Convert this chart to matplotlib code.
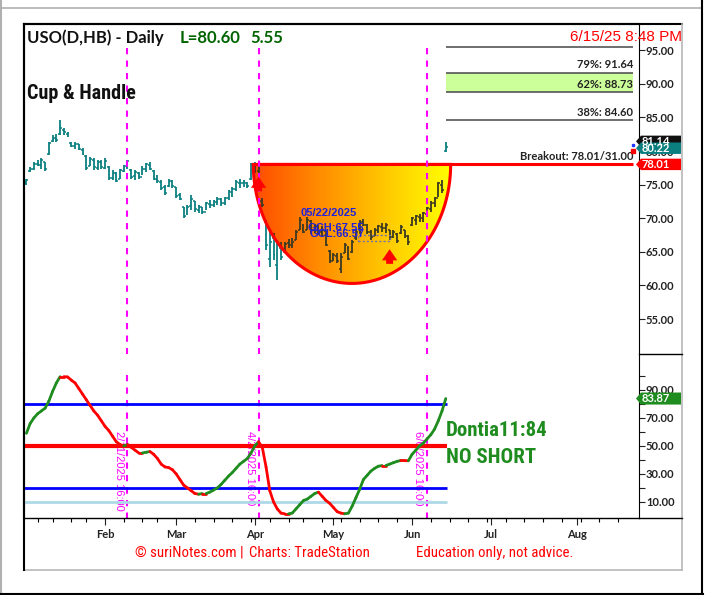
import numpy as np
import matplotlib
matplotlib.use('Agg')
import matplotlib.pyplot as plt
from matplotlib.colors import LinearSegmentedColormap
from matplotlib.collections import LineCollection
from matplotlib.lines import Line2D
from matplotlib.patches import Polygon, Rectangle
import matplotlib.transforms as mtransforms

W, H = 707, 595

# daily bars, index 0 = 12/31/2024 (trading days)
highs = [75.9, 77.6, 78.4, 78.7, 78.9, 78.4, 81.4, 82.4, 82.6, 84.6,
         83.4, 82.9, 81.4, 81.4, 81.1, 80.4, 79.4, 79.1, 78.9, 78.7,
         78.7, 78.9, 77.7, 77.2, 76.9, 77.4, 77.9, 78.7, 77.4, 77.2,
         76.9, 77.7, 78.2, 78.4, 77.2, 76.4, 75.7, 74.9, 75.9, 75.7,
         74.7, 73.7, 71.7, 72.0, 73.4, 72.5, 72.0, 71.7, 72.4, 72.7,
         72.7, 73.2, 73.0, 73.2, 74.2, 74.7, 75.7, 75.9, 75.7, 75.4,
         78.2, 78.3, 78.3, 73.0, 69.7, 68.0, 67.8, 66.8, 66.5, 66.5,
         66.9, 67.0, 68.3, 70.2, 69.2, 70.2, 69.7, 69.2, 69.0, 68.8,
         68.3, 65.3, 64.8, 64.8, 64.8, 66.3, 65.8, 66.8, 68.3, 69.7,
         69.9, 69.2, 68.3, 68.5, 69.0, 69.3, 69.3, 68.3, 68.3, 67.8,
         69.0, 68.3, 67.5, 70.2, 70.5, 70.7, 71.0, 71.7, 72.5, 73.2,
         75.4, 75.7, 81.4]
lows = [75.0, 76.9, 77.2, 77.7, 77.4, 77.1, 79.4, 81.4, 81.4, 82.4,
        82.4, 82.1, 80.6, 80.3, 80.1, 79.4, 77.2, 77.7, 77.2, 77.2,
        77.4, 77.4, 75.7, 75.7, 75.4, 75.9, 76.9, 77.4, 75.9, 75.7,
        75.9, 76.4, 76.9, 77.2, 75.7, 75.2, 74.2, 73.5, 74.7, 74.5,
        73.0, 72.7, 70.0, 70.5, 71.2, 71.0, 70.8, 70.6, 71.2, 71.5,
        71.7, 72.0, 71.8, 72.0, 72.7, 73.2, 74.0, 74.5, 74.7, 74.5,
        75.7, 76.8, 76.8, 71.7, 65.3, 62.8, 63.8, 60.8, 63.8, 64.8,
        65.5, 65.5, 66.7, 68.2, 67.8, 68.2, 67.7, 67.8, 67.5, 67.2,
        65.8, 63.3, 63.6, 63.3, 61.8, 64.8, 63.8, 64.8, 66.8, 67.7,
        68.8, 67.7, 66.8, 67.3, 67.8, 68.0, 67.8, 66.8, 67.0, 66.3,
        67.7, 67.0, 66.0, 68.8, 69.0, 69.5, 69.5, 70.2, 70.9, 71.7,
        73.2, 73.7, 79.9]
opens = [75.2, 77.0, 77.4, 78.0, 77.9, 78.3, 79.5, 81.5, 81.9, 82.5,
         83.2, 82.5, 81.2, 80.7, 81.0, 80.2, 79.3, 77.8, 78.6, 77.5,
         78.3, 77.5, 77.6, 76.0, 76.7, 75.8, 77.1, 77.6, 77.2, 76.3,
         76.8, 76.2, 77.3, 77.9, 77.1, 75.9, 75.4, 74.6, 74.8, 75.5,
         74.6, 73.4, 71.6, 70.6, 71.8, 72.6, 71.2, 71.6, 71.0, 72.1,
         71.9, 72.4, 72.8, 72.3, 73.0, 73.9, 74.3, 75.3, 75.2, 75.3,
         75.8, 77.0, 77.1, 72.6, 69.5, 64.0, 67.0, 63.0, 65.5, 65.0,
         66.3, 66.0, 66.8, 68.3, 69.0, 68.3, 69.6, 68.3, 68.8, 67.9,
         68.1, 65.1, 63.7, 64.4, 62.5, 64.9, 65.6, 65.0, 67.0, 68.5,
         69.4, 69.0, 67.9, 67.3, 68.1, 68.7, 68.5, 68.2, 67.2, 67.7,
         67.8, 68.2, 67.3, 69.0, 69.8, 70.2, 70.0, 70.7, 71.3, 72.2,
         73.0, 75.0, 80.0]
closes = [75.7, 77.4, 78.1, 77.9, 78.6, 77.3, 81.2, 82.0, 81.6, 83.5,
          82.8, 82.7, 80.8, 81.1, 80.3, 79.6, 77.5, 78.8, 77.6, 78.4,
          77.6, 78.5, 76.0, 76.8, 75.6, 77.2, 77.7, 78.5, 76.2, 76.9,
          76.1, 77.4, 78.0, 77.4, 75.9, 75.5, 74.5, 73.8, 75.6, 74.8,
          73.3, 72.9, 70.3, 71.7, 72.8, 71.3, 71.7, 70.9, 72.2, 72.0,
          72.5, 72.8, 72.2, 73.0, 74.0, 74.4, 75.4, 75.2, 75.4, 74.8,
          78.0, 78.0, 78.1, 72.0, 66.0, 66.5, 64.5, 66.0, 64.2, 66.2,
          66.0, 66.5, 68.0, 69.8, 68.0, 69.8, 68.2, 68.8, 67.8, 68.3,
          66.0, 63.6, 64.5, 63.6, 64.3, 66.0, 64.0, 66.5, 68.0, 69.5,
          69.0, 68.0, 67.2, 68.2, 68.8, 68.5, 69.0, 67.3, 68.0, 66.6,
          68.7, 67.4, 66.4, 70.0, 70.3, 70.0, 70.8, 71.5, 72.3, 72.8,
          75.2, 74.2, 80.6]

# Dontia11 oscillator
dontia = [59, 66, 70, 73, 75, 77, 82, 89, 95, 99.5,
          99.5, 99.3, 97, 95, 91, 87, 83, 79, 75, 72,
          68, 64, 61, 57, 53, 51, 50, 51, 49, 47,
          45, 45, 45.5, 46, 44, 41, 37, 35, 34.5, 33,
          30, 26, 22, 20, 18, 16, 15.5, 16, 16, 17,
          18.5, 20, 22.5, 25.5, 28.5, 31, 34, 37, 39, 41,
          45, 50, 53, 49, 35, 18, 10, 5, 2, 1.5,
          1.5, 2, 5, 8, 11, 12, 14, 16, 17, 14,
          11, 9, 6, 3, 2, 1.5, 2, 7, 13, 19,
          26, 29, 32, 34, 35.5, 36, 36, 37, 38, 39,
          39.6, 39.5, 39.4, 44, 47, 50, 52, 55, 58, 62,
          68, 75, 83.87]

month_labels = ['Feb', 'Mar', 'Apr', 'May', 'Jun', 'Jul', 'Aug']
month_pos = [21, 40, 61, 82, 103, 124, 147]
week_pos = [3, 7, 12, 16, 21, 26, 31, 35, 40, 45, 50, 55, 60, 65, 70, 74, 79,
            84, 89, 94, 99, 103, 108, 113, 118, 123, 128, 133, 138, 143, 148,
            153, 158]

event_pos = [27, 62, 107]
event_labels = ['2/11/2025 16:00', '4/2/2025 16:00', '6/6/2025 16:00']

breakout = 78.01
fib_levels = [95.45, 91.64, 88.73, 84.60]
fib_labels = ['', '79%: 91.64', '62%: 88.73', '38%: 84.60']
cup_left, cup_right, cup_bottom = 60.6, 113.3, 60.3
gch, gcl = 67.55, 66.57
osc_levels = [80, 50, 20, 10]

teal = '#0b7f80'
green = '#1e8c1e'
narrow = ['Roboto Condensed', 'DejaVu Sans']
x = np.arange(len(highs))
xlim = (-0.64, 163.6)

fig = plt.figure(figsize=(W / 100, H / 100), dpi=100)
fig.patch.set_facecolor('white')


def fx(px):
    return px / W


def fy(py):
    return 1 - py / H


ax = fig.add_axes([fx(24), fy(354), 615 / W, 330 / H])
ax2 = fig.add_axes([fx(24), fy(518), 615 / W, 164 / H])

# ---- price panel
ax.vlines(x, lows, highs, color=teal, lw=1.3, zorder=1)
ax.hlines(opens, x - 0.5, x, color=teal, lw=1.1, zorder=1)
ax.hlines(closes, x, x + 0.5, color=teal, lw=1.1, zorder=1)

t = np.linspace(np.pi, 2 * np.pi, 120)
cx = (cup_left + cup_right) / 2
cup_x = cx + (cup_right - cup_left) / 2 * np.cos(t)
cup_y = breakout + (breakout - cup_bottom) * np.sin(t)
cup = Polygon(np.column_stack([cup_x, cup_y]), closed=True, fc='none',
              ec='red', lw=2.2, zorder=4)
ax.add_patch(cup)
cmap = LinearSegmentedColormap.from_list('cup', ['#ff4a00', '#ff8c00', '#ffc800', '#ffff00'])
im = ax.imshow(np.linspace(0, 1, 256).reshape(1, -1), extent=[cup_left, cup_right, cup_bottom, breakout],
               aspect='auto', cmap=cmap, zorder=2, interpolation='bilinear')
im.set_clip_path(cup)
for coll in [ax.vlines(x, lows, highs, color='#3a3a22', lw=1.3, zorder=3),
             ax.hlines(opens, x - 0.5, x, color='#3a3a22', lw=1.1, zorder=3),
             ax.hlines(closes, x, x + 0.5, color='#3a3a22', lw=1.1, zorder=3)]:
    coll.set_clip_path(cup)

ax.hlines(breakout, cup_left, 162, color='red', lw=2.2, zorder=5)
ax.fill_between([112, 162], fib_levels[2], fib_levels[1], color='#ccff99', lw=0, zorder=1)
ax.hlines(fib_levels, 112, 162, color='#555555', lw=1.2, zorder=2)
for lv, lb in zip(fib_levels, fib_labels):
    if lb:
        ax.text(162, lv + 0.35, lb, ha='right', va='bottom', fontsize=8,
                fontweight='bold', family='Lato', color='#222222', zorder=6)
ax.text(162, breakout + 0.35, 'Breakout: 78.01/31.00', ha='right', va='bottom',
        fontsize=8, fontweight='bold', family='Lato', color='#222222', zorder=6)

# GC box and labels
ax.add_patch(Rectangle((88.6, gcl), 8.5, gch - gcl, fc='none', ec='#7070b0',
                       lw=1, ls=(0, (1.5, 1.5)), zorder=5))
ax.text(73.1, 70.3, '05/22/2025', color='#2222dd', fontsize=8, fontweight='bold',
        family='Liberation Sans', zorder=6)
ax.text(75.0, 68.1, 'GCH:67.55', color='#2222dd', fontsize=8, fontweight='bold',
        family='Liberation Sans', zorder=6)
ax.text(75.5, 67.15, 'GCL:66.57', color='#2222dd', fontsize=8, fontweight='bold',
        family='Liberation Sans', zorder=6)

# red arrows
for xa, ytip in [(62, 76.6), (97, 65.8)]:
    ax.annotate('', xy=(xa, ytip), xytext=(xa, ytip - 3.0),
                arrowprops=dict(arrowstyle='simple,head_width=1.1,head_length=0.8,tail_width=0.5',
                                color='red', lw=0), zorder=7)

ax.plot([162], [80.9], 's', ms=2, color='#2233ff', zorder=6, clip_on=False)
ax.plot([162], [80.0], 's', ms=2.5, color='red', zorder=6, clip_on=False)

for p in event_pos:
    ax.plot([p, p], [95.3, 49.8], color='#ff00ff', lw=1.5, ls=(0, (3, 3)), zorder=6)

ax.set_xlim(*xlim)
ax.set_ylim(49.8, 98.9)
ax.set_xticks([])
ax.yaxis.tick_right()
ax.set_yticks(np.arange(55, 96, 5))
ax.set_yticklabels(['%.2f' % v for v in np.arange(55, 96, 5)])
ax.tick_params(axis='y', length=4, width=0.8, pad=1, labelsize=8, colors='#222222')
for lab in ax.get_yticklabels():
    lab.set_fontweight('bold')
    lab.set_family('Lato')
ax.spines['bottom'].set_visible(False)
ax.spines['left'].set_linewidth(1.5)
ax.spines['top'].set_linewidth(1.5)
ax.spines['right'].set_linewidth(0.8)

# ---- oscillator panel
for p, lb in zip(event_pos, event_labels):
    ax2.text(p - 2.4, 61, lb, rotation=-90, ha='center', va='top', color='#ff00ff',
             fontsize=8, family='Liberation Sans', zorder=1)
    ax2.plot([p, p], [100.5, -1.5], color='#ff00ff', lw=1.5, ls=(0, (3, 3)), zorder=2)

xe = 112.3
ax2.hlines(osc_levels[0], xlim[0], xe, color='#0000ff', lw=2, zorder=3)
ax2.hlines(osc_levels[1], xlim[0], xe, color='#ff0000', lw=3, zorder=3)
ax2.hlines(osc_levels[2], xlim[0], xe, color='#0000ff', lw=2, zorder=3)
ax2.hlines(osc_levels[3], xlim[0], xe, color='#add8e6', lw=2, zorder=3)

dv = np.array(dontia)
segs = [[(i - 1, dv[i - 1]), (i, dv[i])] for i in range(1, len(dv))]
cols = [green if dv[i] > dv[i - 1] else '#ff0000' for i in range(1, len(dv))]
ax2.add_collection(LineCollection(segs, colors=cols, lw=2, zorder=4, capstyle='round'))

ax2.set_xlim(*xlim)
ax2.set_ylim(-1.5, 115.7)
ax2.yaxis.tick_right()
ax2.set_yticks([10, 30, 50, 70, 90])
ax2.set_yticklabels(['%.2f' % v for v in [10, 30, 50, 70, 90]])
ax2.set_yticks([20, 40, 60, 80, 100], minor=True)
ax2.tick_params(axis='y', which='both', length=4, width=0.8, pad=1, labelsize=8, colors='#222222')
ax2.set_xticks(month_pos)
ax2.set_xticklabels(month_labels)
ax2.set_xticks(week_pos, minor=True)
ax2.tick_params(axis='x', which='major', length=5, width=0.8, pad=3, labelsize=8, colors='#222222')
ax2.tick_params(axis='x', which='minor', length=3, width=0.8)
for lab in ax2.get_yticklabels() + ax2.get_xticklabels():
    lab.set_fontweight('bold')
    lab.set_family('Lato')
ax2.spines['top'].set_visible(False)
ax2.spines['left'].set_linewidth(1.5)
ax2.spines['right'].set_linewidth(0.8)
ax2.spines['bottom'].set_linewidth(1)


# ---- price flags on the right axis
def flag(a, y, text, fc, dy, off=0.0):
    tr = mtransforms.blended_transform_factory(fig.transFigure, a.transData)
    yc = y + off
    pts = [(fx(636), yc), (fx(641), yc + dy), (fx(681), yc + dy), (fx(681), yc - dy), (fx(641), yc - dy)]
    a.add_patch(Polygon(pts, closed=True, transform=tr, fc=fc, ec='none', clip_on=False, zorder=10))
    a.text(fx(642), yc, text, transform=tr, color='white', fontsize=8, fontweight='bold',
           family='Lato', va='center', ha='left', clip_on=False, zorder=11)


flag(ax, 81.14, '81.14', '#111111', 0.85, off=0.3)
flag(ax, 80.22, '80.22', '#0b7f80', 0.85, off=0.2)
flag(ax, breakout, '78.01', '#ff0000', 0.85)
flag(ax2, dontia[-1], '83.87', green, 4.3)

# ---- frame lines
def fline(x0, y0, x1, y1, c, lw=1.0):
    fig.add_artist(Line2D([fx(x0), fx(x1)], [fy(y0), fy(y1)], color=c, lw=lw))


fline(1, 0, 1, 593, '#b0b0b0', 1.5)
fline(0, 8, 702, 8, '#b0b0b0', 1.2)
fline(702, 0, 702, 594, '#000000', 1.5)
fline(0, 593.5, 703, 593.5, '#000000', 1.5)
fline(24, 24, 682, 24, '#000000', 1.5)
fline(682, 24, 682, 570, '#b8b8b8', 1.2)
fline(24, 570, 682, 570, '#b8b8b8', 1.2)
fline(24, 24, 24, 570, '#000000', 1.5)
fline(639, 518, 682, 518, '#000000', 1.0)
fline(639, 354, 682, 354, '#000000', 1.0)

# ---- texts
fig.text(fx(27), fy(43), 'USO(D,HB) - Daily', fontsize=12, fontweight='bold', family='Lato',
         color='#111111', va='baseline')
fig.text(fx(180), fy(43), 'L=80.60', fontsize=12, fontweight='bold', family='Lato',
         color='#006400', va='baseline')
fig.text(fx(250), fy(43), '5.55', fontsize=12, fontweight='bold', family='Lato',
         color='#006400', va='baseline')
fig.text(fx(682), fy(41), '6/15/25 8:48 PM', fontsize=11, family='Liberation Sans',
         color='#ff0000', va='baseline', ha='right')
fig.text(fx(27), fy(99), 'Cup & Handle', fontsize=14.5, fontweight='bold', fontstretch='condensed',
         family=narrow, color='#111111', va='baseline')
fig.text(fx(446), fy(436), 'Dontia11:84', fontsize=15, fontweight='bold', fontstretch='condensed',
         family=narrow, color=green, va='baseline')
fig.text(fx(446), fy(463), 'NO SHORT', fontsize=15, fontweight='bold', fontstretch='condensed',
         family=narrow, color=green, va='baseline')
fig.text(fx(135), fy(557), '\u00a9 suriNotes.com |', fontsize=10.7,
         fontstretch='condensed', family=narrow, color='#ff0000', va='baseline')
fig.text(fx(249), fy(557), 'Charts: TradeStation', fontsize=10.7,
         fontstretch='condensed', family=narrow, color='#ff0000', va='baseline')
fig.text(fx(416), fy(557), 'Education only, not advice.', fontsize=10.7,
         fontstretch='condensed', family=narrow, color='#ff0000', va='baseline')

fig.savefig('out.png', dpi=100)
